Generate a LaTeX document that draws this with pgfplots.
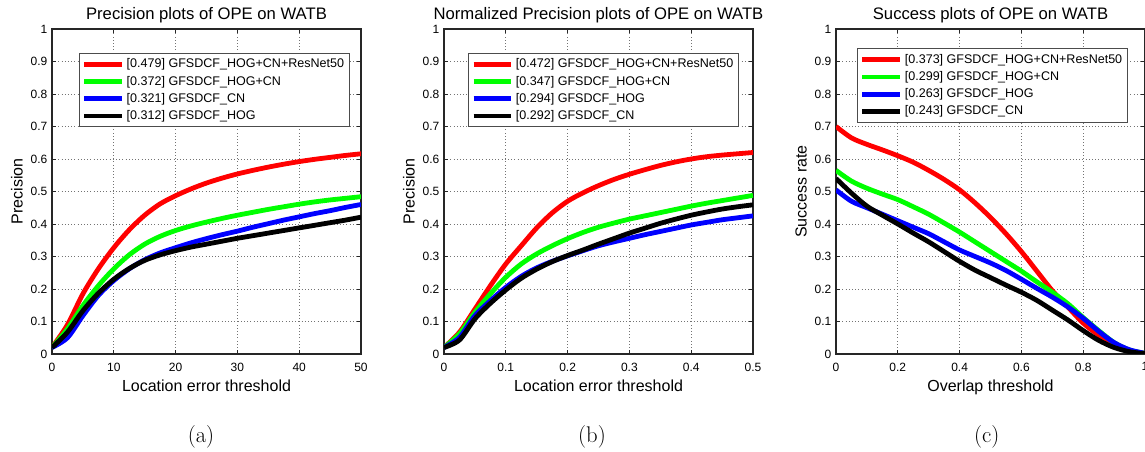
\documentclass[border=0pt]{standalone}
\usepackage{fontspec}
\usepackage{pgfplots}
\pgfplotsset{compat=1.18}
\newfontfamily\arial{Liberation Sans}

\pgfplotsset{
  watb/.style={
    scale only axis, width=231.75pt, height=243.75pt,
    anchor=south west,
    ymin=0, ymax=1, ytick={0,0.1,...,1},
    grid=major,
    major grid style={dotted, black!55, line width=0.6pt},
    axis line style={line width=0.9pt, black!85},
    tick style={black!85, line width=0.6pt},
    major tick length=3pt,
    tick align=inside,
    /pgf/number format/assume math mode=true,
    tick label style={font=\arial\fontsize{9}{10}\selectfont},
    yticklabel style={/pgf/number format/fixed},
    xticklabel style={/pgf/number format/fixed, yshift=-3pt},
    label style={font=\arial\fontsize{12}{14}\selectfont},
    ylabel style={yshift=-1pt},
    title style={font=\arial\fontsize{12.5}{14}\selectfont, yshift=-5pt},
    legend cell align=left,
    legend style={font=\arial\fontsize{9.4}{11.5}\selectfont, anchor=north west,
      draw=black!70, line width=0.6pt, row sep=0.6pt, inner sep=2pt},
    legend image code/.code={\draw[##1] (0pt,0pt) -- (28pt,0pt);},
    every axis plot/.append style={line width=3.6pt, smooth, line join=round, no marks},
  }
}

\begin{document}
\begin{tikzpicture}
\path[use as bounding box] (0,0) rectangle (858.75pt,339pt);

% (a)
\begin{axis}[watb, at={(39pt,73.5pt)},
  xmin=0, xmax=50, xtick={0,10,...,50},
  title={Precision plots of OPE on WATB},
  xlabel={Location error threshold}, ylabel={Precision},
  legend style={at={(0.087,0.926)}}]
\addplot[red] coordinates {(0,0.02)(2.5,0.09)(5,0.185)(7.5,0.262)(10,0.327)(12.5,0.382)(15,0.427)(17.5,0.462)(20,0.487)(22.5,0.508)(25,0.526)(27.5,0.541)(30,0.554)(32.5,0.565)(35,0.575)(37.5,0.584)(40,0.592)(42.5,0.599)(45,0.605)(47.5,0.611)(50,0.616)};
\addplot[green] coordinates {(0,0.02)(2.5,0.077)(5,0.149)(7.5,0.21)(10,0.262)(12.5,0.305)(15,0.338)(17.5,0.362)(20,0.38)(22.5,0.394)(25,0.406)(27.5,0.417)(30,0.427)(32.5,0.436)(35,0.445)(37.5,0.453)(40,0.461)(42.5,0.468)(45,0.474)(47.5,0.479)(50,0.484)};
\addplot[blue] coordinates {(0,0.02)(2.5,0.05)(5,0.118)(7.5,0.18)(10,0.226)(12.5,0.262)(15,0.29)(17.5,0.311)(20,0.327)(22.5,0.342)(25,0.355)(27.5,0.367)(30,0.378)(32.5,0.39)(35,0.401)(37.5,0.412)(40,0.422)(42.5,0.432)(45,0.441)(47.5,0.451)(50,0.46)};
\addplot[black] coordinates {(0,0.02)(2.5,0.067)(5,0.133)(7.5,0.187)(10,0.23)(12.5,0.263)(15,0.288)(17.5,0.305)(20,0.318)(22.5,0.329)(25,0.338)(27.5,0.347)(30,0.356)(32.5,0.364)(35,0.372)(37.5,0.38)(40,0.388)(42.5,0.396)(45,0.404)(47.5,0.412)(50,0.421)};
\legend{{}[0.479] GFSDCF\_HOG+CN+ResNet50,{}[0.372] GFSDCF\_HOG+CN,{}[0.321] GFSDCF\_CN,{}[0.312] GFSDCF\_HOG}
\end{axis}

% (b)
\begin{axis}[watb, at={(333pt,73.5pt)},
  xmin=0, xmax=0.5, xtick={0,0.1,...,0.5},
  title={Normalized Precision plots of OPE on WATB},
  xlabel={Location error threshold}, ylabel={Precision},
  legend style={at={(0.078,0.926)}}]
\addplot[red] coordinates {(0,0.02)(0.025,0.067)(0.05,0.138)(0.075,0.21)(0.1,0.277)(0.125,0.333)(0.15,0.388)(0.175,0.434)(0.2,0.47)(0.225,0.496)(0.25,0.518)(0.275,0.537)(0.3,0.553)(0.325,0.567)(0.35,0.58)(0.375,0.591)(0.4,0.6)(0.425,0.607)(0.45,0.612)(0.475,0.616)(0.5,0.62)};
\addplot[green] coordinates {(0,0.02)(0.025,0.062)(0.05,0.128)(0.075,0.185)(0.1,0.236)(0.125,0.277)(0.15,0.308)(0.175,0.333)(0.2,0.355)(0.225,0.374)(0.25,0.39)(0.275,0.403)(0.3,0.415)(0.325,0.425)(0.35,0.435)(0.375,0.445)(0.4,0.455)(0.425,0.464)(0.45,0.472)(0.475,0.48)(0.5,0.488)};
\addplot[blue] coordinates {(0,0.02)(0.025,0.051)(0.05,0.118)(0.075,0.164)(0.1,0.205)(0.125,0.239)(0.15,0.265)(0.175,0.285)(0.2,0.302)(0.225,0.318)(0.25,0.333)(0.275,0.345)(0.3,0.356)(0.325,0.367)(0.35,0.377)(0.375,0.387)(0.4,0.397)(0.425,0.405)(0.45,0.413)(0.475,0.419)(0.5,0.425)};
\addplot[black] coordinates {(0,0.02)(0.025,0.043)(0.05,0.108)(0.075,0.156)(0.1,0.197)(0.125,0.233)(0.15,0.261)(0.175,0.284)(0.2,0.303)(0.225,0.32)(0.25,0.338)(0.275,0.355)(0.3,0.372)(0.325,0.387)(0.35,0.402)(0.375,0.415)(0.4,0.427)(0.425,0.437)(0.45,0.446)(0.475,0.453)(0.5,0.459)};
\legend{{}[0.472] GFSDCF\_HOG+CN+ResNet50,{}[0.347] GFSDCF\_HOG+CN,{}[0.294] GFSDCF\_HOG,{}[0.292] GFSDCF\_CN}
\end{axis}

% (c)
\begin{axis}[watb, at={(627pt,73.5pt)},
  xmin=0, xmax=1, xtick={0,0.2,...,1},
  title={Success plots of OPE on WATB},
  xlabel={Overlap threshold}, ylabel={Success rate},
  legend style={at={(0.068,0.94)}}]
\addplot[red] coordinates {(0,0.70)(0.05,0.665)(0.1,0.645)(0.15,0.628)(0.2,0.61)(0.25,0.59)(0.3,0.565)(0.35,0.537)(0.4,0.505)(0.45,0.465)(0.5,0.42)(0.55,0.37)(0.6,0.315)(0.65,0.255)(0.7,0.195)(0.75,0.145)(0.8,0.095)(0.85,0.058)(0.9,0.027)(0.95,0.01)(1,0.002)};
\addplot[green] coordinates {(0,0.565)(0.05,0.532)(0.1,0.51)(0.15,0.492)(0.2,0.475)(0.25,0.453)(0.3,0.43)(0.35,0.403)(0.4,0.375)(0.45,0.345)(0.5,0.315)(0.55,0.285)(0.6,0.255)(0.65,0.222)(0.7,0.19)(0.75,0.155)(0.8,0.112)(0.85,0.072)(0.9,0.035)(0.95,0.012)(1,0.002)};
\addplot[blue] coordinates {(0,0.505)(0.05,0.47)(0.1,0.45)(0.15,0.43)(0.2,0.41)(0.25,0.39)(0.3,0.37)(0.35,0.345)(0.4,0.32)(0.45,0.3)(0.5,0.28)(0.55,0.257)(0.6,0.23)(0.65,0.202)(0.7,0.175)(0.75,0.145)(0.8,0.11)(0.85,0.07)(0.9,0.035)(0.95,0.013)(1,0.002)};
\addplot[black] coordinates {(0,0.54)(0.05,0.495)(0.1,0.455)(0.15,0.427)(0.2,0.40)(0.25,0.372)(0.3,0.345)(0.35,0.315)(0.4,0.285)(0.45,0.258)(0.5,0.235)(0.55,0.212)(0.6,0.19)(0.65,0.165)(0.7,0.135)(0.75,0.105)(0.8,0.072)(0.85,0.042)(0.9,0.02)(0.95,0.007)(1,0.001)};
\legend{{}[0.373] GFSDCF\_HOG+CN+ResNet50,{}[0.299] GFSDCF\_HOG+CN,{}[0.263] GFSDCF\_HOG,{}[0.243] GFSDCF\_CN}
\end{axis}

\node[font=\fontsize{17}{20}\selectfont] at (150.75pt,11.5pt) {(a)};
\node[font=\fontsize{17}{20}\selectfont] at (444pt,11.5pt) {(b)};
\node[font=\fontsize{17}{20}\selectfont] at (740pt,11.5pt) {(c)};
\end{tikzpicture}
\end{document}
